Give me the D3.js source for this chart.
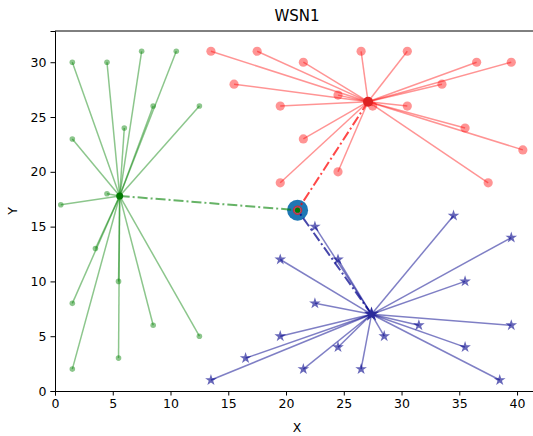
<!DOCTYPE html>
<html>
<head>
<meta charset="utf-8">
<script src="https://cdn.jsdelivr.net/npm/d3@7"></script>
<style>
  body { margin: 0; background: #fff; }
  text { font-family: "DejaVu Sans", sans-serif; fill: #000; }
</style>
</head>
<body>
<div id="chart"></div>
<script>
// cluster members
var greenX = [1.5, 4.5, 7.5, 10.5, 8.5, 12.5, 6, 1.5, 4.5, 0.5, 3.5, 5.5, 1.5, 8.5, 12.5, 5.5, 1.5];
var greenY = [30, 30, 31, 31, 26, 26, 24, 23, 18, 17, 13, 10, 8, 6, 5, 3, 2];

var redX = [13.5, 17.5, 26.5, 30.5, 21.5, 36.5, 39.5, 15.5, 33.5, 24.5, 19.5, 30.5, 27.5, 35.5, 40.5, 21.5, 24.5, 19.5, 37.5];
var redY = [31, 31, 31, 31, 30, 30, 30, 28, 28, 27, 26, 26, 26, 24, 22, 23, 20, 19, 19];

var blueX = [34.5, 22.5, 39.5, 19.5, 24.5, 35.5, 22.5, 31.5, 39.5, 19.5, 28.5, 24.5, 35.5, 16.5, 21.5, 26.5, 13.5, 38.5];
var blueY = [16, 15, 14, 12, 12, 10, 8, 6, 6, 5, 5, 4, 4, 3, 2, 2, 1, 1];

// cluster heads: green, red, blue
var headX = [5.6, 27.1, 27.4];
var headY = [17.8, 26.4, 7.0];

var baseX = 21.0, baseY = 16.5;

var xTicks = [0, 5, 10, 15, 20, 25, 30, 35, 40];
var yTicks = [0, 5, 10, 15, 20, 25, 30];

var width = 533, height = 436;
var margin = {top: 31, right: -6, bottom: 45, left: 55};

var svg = d3.select("#chart").append("svg")
    .attr("width", width)
    .attr("height", height);

var x = d3.scaleLinear().domain([0, 41.9]).range([margin.left, width - margin.right]);
var y = d3.scaleLinear().domain([0, 32.85]).range([height - margin.bottom, margin.top]);

svg.append("clipPath").attr("id", "clip")
  .append("rect")
    .attr("x", margin.left).attr("y", margin.top)
    .attr("width", width - margin.right - margin.left)
    .attr("height", height - margin.bottom - margin.top);

var plot = svg.append("g").attr("clip-path", "url(#clip)");

var clusters = [
    {xs: greenX, ys: greenY, color: "#008000", alpha: 0.45, head: "#007a00", marker: "dot"},
    {xs: redX, ys: redY, color: "#ff0000", alpha: 0.42, head: "#dd2222", marker: "circle"},
    {xs: blueX, ys: blueY, color: "#00008b", alpha: 0.5, head: "#2a2a9a", marker: "star"}
];

var star = d3.symbol().type(d3.symbolStar).size(42);

clusters.forEach(function(c, k) {
    var hx = headX[k], hy = headY[k];
    var g = plot.append("g");

    // links member -> head
    g.selectAll("line")
        .data(c.xs)
        .enter().append("line")
        .attr("x1", function(d) { return x(d); })
        .attr("y1", function(d, i) { return y(c.ys[i]); })
        .attr("x2", x(hx))
        .attr("y2", y(hy))
        .attr("stroke", c.color)
        .attr("stroke-opacity", c.alpha)
        .attr("stroke-width", 1.5);

    // member markers
    if (c.marker === "star") {
        g.selectAll("path")
            .data(c.xs)
            .enter().append("path")
            .attr("d", star)
            .attr("transform", function(d, i) { return "translate(" + x(d) + "," + y(c.ys[i]) + ")"; })
            .attr("fill", c.color)
            .attr("fill-opacity", c.alpha + 0.1);
    } else {
        g.selectAll("circle")
            .data(c.xs)
            .enter().append("circle")
            .attr("cx", function(d) { return x(d); })
            .attr("cy", function(d, i) { return y(c.ys[i]); })
            .attr("r", c.marker === "dot" ? 2.8 : 4.6)
            .attr("fill", c.color)
            .attr("fill-opacity", c.alpha);
    }
});

// base station
plot.append("circle")
    .attr("cx", x(baseX)).attr("cy", y(baseY))
    .attr("r", 10.5)
    .attr("fill", "#1f77b4");

// head -> base links (dash-dot)
clusters.forEach(function(c, k) {
    plot.append("line")
        .attr("x1", x(headX[k])).attr("y1", y(headY[k]))
        .attr("x2", x(baseX)).attr("y2", y(baseY))
        .attr("stroke", c.color)
        .attr("stroke-opacity", k === 0 ? 0.6 : 0.72)
        .attr("stroke-width", 2)
        .attr("stroke-dasharray", "10,3,2,3");
});

// heads
clusters.forEach(function(c, k) {
    if (c.marker === "star") {
        plot.append("path")
            .attr("d", d3.symbol().type(d3.symbolStar).size(70))
            .attr("transform", "translate(" + x(headX[k]) + "," + y(headY[k]) + ")")
            .attr("fill", c.head);
    } else {
        plot.append("circle")
            .attr("cx", x(headX[k])).attr("cy", y(headY[k]))
            .attr("r", c.marker === "dot" ? 3.5 : 5)
            .attr("fill", c.head);
    }
});

// marks drawn over the base station
plot.append("circle")
    .attr("cx", x(baseX)).attr("cy", y(baseY))
    .attr("r", 4.2)
    .attr("fill", "#e04060").attr("fill-opacity", 0.7)
    .attr("stroke", "#d62728").attr("stroke-width", 1);
plot.append("circle")
    .attr("cx", x(baseX)).attr("cy", y(baseY))
    .attr("r", 2.6)
    .attr("fill", "#007a00");

// axes
var xAxis = svg.append("g")
    .attr("transform", "translate(0," + (height - margin.bottom) + ")")
    .call(d3.axisBottom(x).tickValues(xTicks).tickSize(4.5).tickPadding(4));
var yAxis = svg.append("g")
    .attr("transform", "translate(" + margin.left + ",0)")
    .call(d3.axisLeft(y).tickValues(yTicks).tickSize(4.5).tickPadding(4));

[xAxis, yAxis].forEach(function(a) {
    a.selectAll("text").style("font-size", "12.5px").style("font-family", "DejaVu Sans");
    a.selectAll("line").attr("stroke", "#000").attr("stroke-width", 1);
    a.select(".domain").attr("stroke", "#000").attr("stroke-width", 1);
});

// top spine
svg.append("line")
    .attr("x1", margin.left).attr("x2", width)
    .attr("y1", margin.top).attr("y2", margin.top)
    .attr("stroke", "#000").attr("stroke-width", 1);

svg.append("text")
    .attr("x", 297).attr("y", 21)
    .attr("text-anchor", "middle")
    .style("font-size", "15px")
    .text("WSN1");

svg.append("text")
    .attr("x", 297).attr("y", 432)
    .attr("text-anchor", "middle")
    .style("font-size", "12.5px")
    .text("X");

svg.append("text")
    .attr("transform", "translate(17," + ((margin.top + height - margin.bottom) / 2) + ")rotate(-90)")
    .attr("text-anchor", "middle")
    .style("font-size", "12.5px")
    .text("Y");
</script>
</body>
</html>
